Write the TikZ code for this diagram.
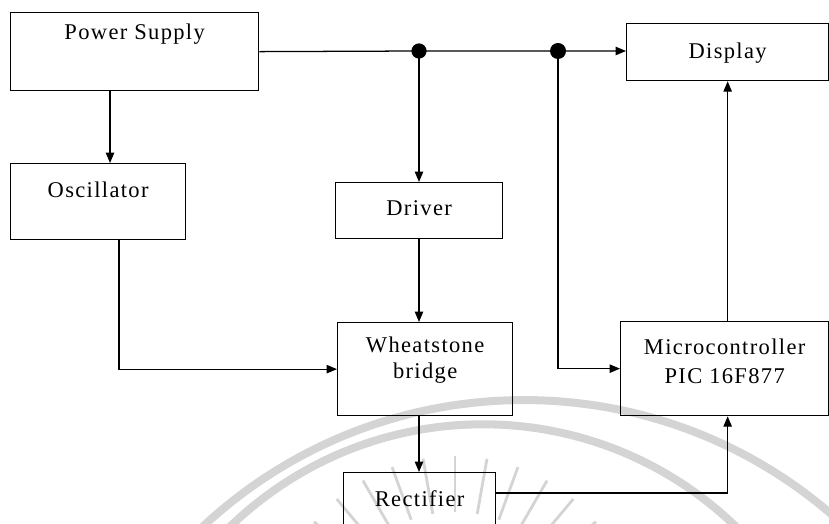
\documentclass[tikz,border=0pt]{standalone}
\usepackage{fontspec}
\setmainfont{Liberation Serif}[LetterSpace=6]
\usepackage{tikz}
\usetikzlibrary{arrows.meta}
\definecolor{MarkGrey}{HTML}{D4D4D4}

\begin{document}
\begin{tikzpicture}[x=0.025cm,y=-0.025cm,>={Triangle[length=2.6mm,width=2.1mm]},
    blk/.style={draw,line width=0.9pt,inner sep=0pt,anchor=north west,font=\fontsize{16}{19}\selectfont},
    wire/.style={line width=0.9pt},
    arr/.style={wire,->}]
    \clip (0,0) rectangle (829,524);
    % watermark behind the blocks
    \draw[MarkGrey,line width=5.7pt] (524,871) circle (11.77cm);
    \draw[MarkGrey,line width=5.7pt] (483,788) circle (9.09cm);
    \foreach \a in {40,50,...,140}
      \draw[MarkGrey,line width=2pt] ([shift={(\a:3.2cm)}]455,640) -- ([shift={(\a:4.6cm)}]455,640);
    % blocks
    \node[blk,minimum width=6.2cm,text height=0.675cm,text depth=1.275cm] (ps) at (10,12) {Power Supply};
    \node[blk,minimum width=5.05cm,text height=0.875cm,text depth=0.55cm] (disp) at (626,23) {Display};
    \node[blk,minimum width=4.375cm,text height=0.85cm,text depth=1.05cm] (osc) at (10,163) {Oscillator};
    \node[blk,minimum width=4.175cm,text height=0.825cm,text depth=0.575cm] (drv) at (335,182) {Driver};
    \node[blk,align=center,minimum width=4.375cm,text height=1.4cm,text depth=0.925cm,font=\fontsize{16}{18.5}\selectfont] (wsb) at (337,322) {Wheatstone\\bridge};
    \node[blk,align=center,minimum width=5.2cm,text height=1.55cm,text depth=0.8cm,font=\fontsize{16}{21}\selectfont] (mcu) at (620,321) {Microcontroller\\PIC 16F877};
    \node[blk,minimum width=3.8cm,text height=0.85cm,text depth=1.0cm] (rect) at (343,472) {Rectifier};
    % junctions on the supply line
    \coordinate (j1) at (419,51);
    \coordinate (j2) at (558,51);
    \draw[arr] (ps.east) -- (j1) -- (j2) -- (j2 -| disp.west);
    \fill (j1) circle (1.9mm);
    \fill (j2) circle (2mm);
    \draw[arr] (j1) -- (j1 |- drv.north);
    \draw[arr] (j1 |- drv.south) -- (j1 |- wsb.north);
    \draw[arr] (j1 |- wsb.south) -- (j1 |- rect.north);
    \draw[arr] ([xshift=2.5cm]ps.south west) -- ([xshift=2.5cm]osc.north west);
    \draw[arr] ([xshift=2.725cm]osc.south west) |- (wsb.west);
    \draw[arr] (j2) |- (mcu.west);
    \draw[arr] ([yshift=-0.525cm]rect.north east) -| (mcu.south -| disp.south);
    \draw[arr] (mcu.north -| disp.south) -- (disp.south);
  \end{tikzpicture}
\end{document}
